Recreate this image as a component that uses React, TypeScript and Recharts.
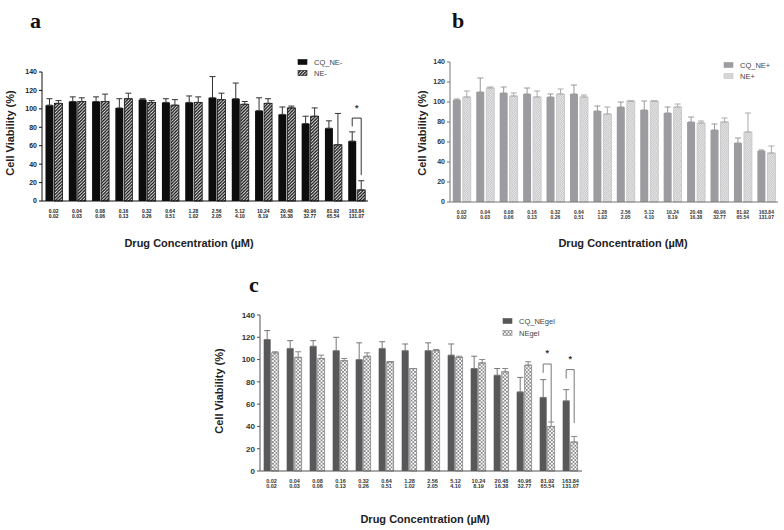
import React from "react";
import { BarChart, Bar, XAxis, YAxis, ErrorBar } from "recharts";

// concentrations: first line = CQ, second line = NE equivalent
const cqConc = ["0.02", "0.04", "0.08", "0.16", "0.32", "0.64", "1.28", "2.56", "5.12", "10.24", "20.48", "40.96", "81.92", "163.84"];
const neConc = ["0.02", "0.03", "0.06", "0.13", "0.26", "0.51", "1.02", "2.05", "4.10", "8.19", "16.38", "32.77", "65.54", "131.07"];
const yTicks = [0, 20, 40, 60, 80, 100, 120, 140];

// panel a
const aCq = [104, 108, 108, 101, 110, 107, 107, 112, 111, 98, 94, 84, 79, 65];
const aCqErr = [7, 5, 5, 10, 1, 4, 7, 23, 17, 14, 8, 8, 8, 10];
const aNe = [106, 108, 108, 111, 107, 104, 107, 110, 105, 106, 101, 92, 61, 12];
const aNeErr = [3, 4, 8, 6, 2, 6, 6, 7, 3, 5, 2, 9, 34, 10];
const aBrackets = [{ cat: "163.84", top: 90, left: 81, right: 28, star: 98 }];

// panel b
const bCq = [102, 110, 109, 108, 105, 108, 91, 95, 92, 89, 80, 72, 59, 51];
const bCqErr = [1, 14, 6, 6, 3, 9, 5, 5, 9, 6, 5, 6, 5, 1];
const bNe = [105, 114, 106, 105, 108, 105, 88, 101, 101, 95, 79, 80, 70, 49];
const bNeErr = [6, 1, 3, 6, 5, 2, 7, 0, 0, 3, 2, 4, 19, 7];

// panel c
const cCq = [118, 110, 112, 108, 100, 110, 108, 108, 104, 92, 86, 71, 66, 63];
const cCqErr = [8, 7, 5, 12, 15, 6, 6, 7, 10, 11, 6, 13, 16, 10];
const cNe = [106, 102, 101, 99, 103, 98, 92, 108, 102, 97, 89, 95, 40, 26];
const cNeErr = [1, 5, 3, 2, 3, 0, 0, 1, 1, 3, 3, 3, 4, 5];
const cBrackets = [
  { cat: "81.92", top: 96, left: 88, right: 44, star: 103 },
  { cat: "163.84", top: 91, left: 83, right: 43, star: 98 },
];

const sans = "'Liberation Sans', Arial, sans-serif";
const serif = "'Liberation Serif', 'DejaVu Serif', serif";

function rows(cq: number[], cqErr: number[], ne: number[], neErr: number[]) {
  return cqConc.map((c, i) => ({
    cat: c,
    cqV: cq[i],
    cqE: [0, cqErr[i]],
    neV: ne[i],
    neE: [0, neErr[i]],
  }));
}

const dataA = rows(aCq, aCqErr, aNe, aNeErr);
const dataB = rows(bCq, bCqErr, bNe, bNeErr);
const dataC = rows(cCq, cCqErr, cNe, cNeErr);

function XTick(props: any) {
  const { x, y, payload, fs, color } = props;
  const i = cqConc.indexOf(payload.value);
  return (
    <g>
      <text x={x} y={y + 11.5} textAnchor="middle" fontSize={fs} fontWeight={700} fill={color} fontFamily={sans}>
        {payload.value}
      </text>
      <text x={x} y={y + 17} textAnchor="middle" fontSize={fs} fontWeight={700} fill={color} fontFamily={sans}>
        {neConc[i]}
      </text>
    </g>
  );
}

function neShape(brackets: any[], gap: number, color: string) {
  return (props: any) => {
    const { x, y, width, height, fill, stroke, strokeWidth, payload } = props;
    const br = brackets.find((b) => b.cat === payload.cat);
    let extra = null;
    if (br) {
      const base = y + height;
      const ppu = height / payload.neV;
      const yAt = (v: number) => base - v * ppu;
      const lx = x - gap - width / 2;
      const rx = x + width / 2;
      extra = (
        <g>
          <path
            d={`M${lx},${yAt(br.left)} V${yAt(br.top)} H${rx} V${yAt(br.right)}`}
            fill="none"
            stroke={color}
            strokeWidth={1}
          />
          <text x={(lx + rx) / 2} y={yAt(br.star)} textAnchor="middle" fontSize={9} fontWeight={700} fill="#333" fontFamily={sans}>
            *
          </text>
        </g>
      );
    }
    return (
      <g>
        <rect x={x} y={y} width={width} height={height} fill={fill} stroke={stroke} strokeWidth={strokeWidth} />
        {extra}
      </g>
    );
  };
}

function Panel(props: any) {
  const { data, width, height, margin, yWidth, axisColor, textColor, cqFill, neFill, neStroke, errCq, errNe, brackets, gap, catGap, fs, yfs } = props;
  return (
    <BarChart width={width} height={height} data={data} margin={margin} barGap={gap} barCategoryGap={catGap}>
      <XAxis
        dataKey="cat"
        interval={0}
        tickLine={false}
        tickSize={0}
        tickMargin={0}
        height={20}
        stroke={axisColor}
        tick={(p: any) => <XTick {...p} fs={fs} color={textColor} />}
      />
      <YAxis
        width={yWidth}
        domain={[0, 140]}
        ticks={yTicks}
        tickSize={3}
        tickMargin={2}
        stroke={axisColor}
        tick={{ fontSize: yfs, fontWeight: 700, fill: textColor, fontFamily: sans }}
      />
      <Bar dataKey="cqV" fill={cqFill} isAnimationActive={false}>
        <ErrorBar dataKey="cqE" width={3} stroke={errCq} strokeWidth={1} direction="y" />
      </Bar>
      <Bar
        dataKey="neV"
        fill={neFill}
        stroke={neStroke}
        strokeWidth={0.8}
        isAnimationActive={false}
        shape={neShape(brackets, gap, errCq)}
      >
        <ErrorBar dataKey="neE" width={3} stroke={errNe} strokeWidth={1} direction="y" />
      </Bar>
    </BarChart>
  );
}

function LegendItem({ x, y, fill, stroke, label }: any) {
  return (
    <g>
      <rect x={x} y={y - 2.5} width={9} height={5} fill={fill} stroke={stroke} strokeWidth={0.6} />
      <text x={x + 16} y={y + 2.5} fontSize={7.5} fill="#444" fontFamily={sans}>
        {label}
      </text>
    </g>
  );
}

export default function App() {
  return (
    <div style={{ position: "absolute", left: 0, top: 0, width: 784, height: 530, background: "#fff", overflow: "hidden" }}>
      <svg width={0} height={0} style={{ position: "absolute" }}>
        <defs>
          <pattern id="hatchA" patternUnits="userSpaceOnUse" width={3.2} height={3.2}>
            <rect width={3.2} height={3.2} fill="#fff" />
            <path d="M-0.8,0.8 l1.6,-1.6 M0,3.2 l3.2,-3.2 M2.4,4 l1.6,-1.6" stroke="#111" strokeWidth={1.3} />
          </pattern>
          <pattern id="checkB" patternUnits="userSpaceOnUse" width={2.4} height={2.4}>
            <rect width={2.4} height={2.4} fill="#f4f4f4" />
            <rect width={1.2} height={1.2} fill="#b8b8bc" />
            <rect x={1.2} y={1.2} width={1.2} height={1.2} fill="#b8b8bc" />
          </pattern>
          <pattern id="dotsC" patternUnits="userSpaceOnUse" width={3.6} height={3.6}>
            <rect width={3.6} height={3.6} fill="#fff" />
            <circle cx={0.9} cy={0.9} r={0.85} fill="#555" />
            <circle cx={2.7} cy={2.7} r={0.85} fill="#555" />
          </pattern>
        </defs>
      </svg>

      <div style={{ position: "absolute", left: 0, top: 0 }}>
        <Panel
          data={dataA}
          width={372}
          height={230}
          margin={{ top: 72, right: 4, bottom: 9, left: 0 }}
          yWidth={42}
          axisColor="#111"
          textColor="#222"
          cqFill="#0d0d0d"
          neFill="url(#hatchA)"
          neStroke="#111"
          errCq="#333"
          errNe="#333"
          brackets={aBrackets}
          gap={1}
          catGap="15%"
          fs={5}
          yfs={7}
        />
      </div>

      <div style={{ position: "absolute", left: 400, top: 0 }}>
        <Panel
          data={dataB}
          width={380}
          height={230}
          margin={{ top: 62, right: 2, bottom: 8, left: 0 }}
          yWidth={50}
          axisColor="#777"
          textColor="#333"
          cqFill="#9c9ca0"
          neFill="url(#checkB)"
          neStroke="#c4c4c4"
          errCq="#999"
          errNe="#aaa"
          brackets={[]}
          gap={2}
          catGap="12%"
          fs={5}
          yfs={7}
        />
      </div>

      <div style={{ position: "absolute", left: 200, top: 290 }}>
        <Panel
          data={dataC}
          width={384}
          height={210}
          margin={{ top: 25, right: 2, bottom: 9, left: 0 }}
          yWidth={60}
          axisColor="#555"
          textColor="#333"
          cqFill="#58585b"
          neFill="url(#dotsC)"
          neStroke="#888"
          errCq="#777"
          errNe="#888"
          brackets={cBrackets}
          gap={1}
          catGap="16%"
          fs={5.5}
          yfs={8}
        />
      </div>

      <svg width={784} height={530} style={{ position: "absolute", left: 0, top: 0, pointerEvents: "none" }}>
        <text x={30} y={28} fontSize={22} fontWeight={700} fontFamily={serif} fill="#111">a</text>
        <text x={452} y={28} fontSize={22} fontWeight={700} fontFamily={serif} fill="#111">b</text>
        <text x={249} y={292} fontSize={22} fontWeight={700} fontFamily={serif} fill="#111">c</text>

        <text transform="translate(14,133) rotate(-90)" textAnchor="middle" fontSize={11} fontWeight={700} fontFamily={sans} fill="#222">Cell Viability (%)</text>
        <text x={189} y={247} textAnchor="middle" fontSize={11} fontWeight={700} fontFamily={sans} fill="#222">Drug Concentration (µM)</text>

        <text transform="translate(426,133) rotate(-90)" textAnchor="middle" fontSize={11} fontWeight={700} fontFamily={sans} fill="#222">Cell Viability (%)</text>
        <text x={623} y={247} textAnchor="middle" fontSize={11} fontWeight={700} fontFamily={sans} fill="#222">Drug Concentration (µM)</text>

        <text transform="translate(223,391) rotate(-90)" textAnchor="middle" fontSize={11} fontWeight={700} fontFamily={sans} fill="#222">Cell Viability (%)</text>
        <text x={425} y={523} textAnchor="middle" fontSize={11} fontWeight={700} fontFamily={sans} fill="#222">Drug Concentration (µM)</text>

        <LegendItem x={298} y={62} fill="#0d0d0d" stroke="#0d0d0d" label="CQ_NE-" />
        <LegendItem x={298} y={73} fill="url(#hatchA)" stroke="#111" label="NE-" />

        <LegendItem x={724} y={65} fill="#9c9ca0" stroke="#9c9ca0" label="CQ_NE+" />
        <LegendItem x={724} y={76} fill="url(#checkB)" stroke="#c4c4c4" label="NE+" />

        <LegendItem x={503} y={321} fill="#58585b" stroke="#58585b" label="CQ_NEgel" />
        <LegendItem x={503} y={333} fill="url(#dotsC)" stroke="#888" label="NEgel" />
      </svg>
    </div>
  );
}
